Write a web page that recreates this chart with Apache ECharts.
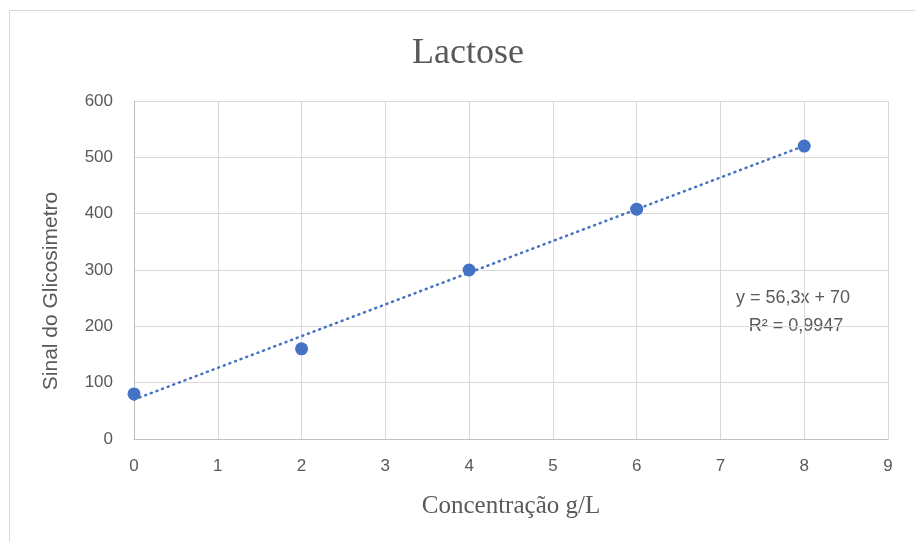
<!DOCTYPE html>
<html><head><meta charset="utf-8">
<script src="https://cdn.jsdelivr.net/npm/echarts@6/dist/echarts.min.js"></script>
<style>html,body{margin:0;padding:0;background:#fff}#c{width:915px;height:542px}</style>
</head><body><div id="c"></div>
<script>
const concentrations = [0, 2, 4, 6, 8];
const signals = [80, 160, 300, 408, 520];
const trendSlope = 56.3;
const trendIntercept = 70;
const trendX = [0, 8];

const chart = echarts.init(document.getElementById('c'));
const sans = '"Liberation Sans", Arial, sans-serif';
const serif = '"Liberation Serif", "DejaVu Serif", serif';
chart.setOption({
  animation: false,
  title: { text: 'Lactose', left: 463, top: 31, textAlign: 'center',
    textStyle: { fontFamily: serif, fontSize: 36, fontWeight: 'normal', color: '#595959' } },
  grid: { left: 134, top: 101, right: 27, bottom: 103 },
  xAxis: { type: 'value', min: 0, max: 9, interval: 1,
    name: 'Concentração g/L', nameLocation: 'middle', nameGap: 55,
    nameTextStyle: { fontFamily: serif, fontSize: 25, color: '#595959' },
    axisLine: { show: true, lineStyle: { color: '#bfbfbf', width: 1 } },
    axisTick: { show: false },
    axisLabel: { margin: 19, fontFamily: sans, fontSize: 17, color: '#595959' },
    splitLine: { show: true, lineStyle: { color: '#d9d9d9', width: 1 } } },
  yAxis: { type: 'value', min: 0, max: 600, interval: 100,
    name: 'Sinal do Glicosimetro', nameLocation: 'middle', nameGap: 72, nameRotate: 90,
    nameTextStyle: { fontFamily: sans, fontSize: 21, color: '#595959', padding: [0, 42, 0, 0] },
    axisLine: { show: true, lineStyle: { color: '#bfbfbf', width: 1 } },
    axisTick: { show: false },
    axisLabel: { margin: 21, fontFamily: sans, fontSize: 17, color: '#595959' },
    splitLine: { show: true, lineStyle: { color: '#d9d9d9', width: 1 } } },
  graphic: [
    { type: 'rect', silent: true, z: -1, shape: { x: 9.5, y: 10.5, width: 920, height: 540 },
      style: { fill: 'none', stroke: '#d9d9d9', lineWidth: 1 } },
    { type: 'text', x: 793, y: 298, style: { text: 'y = 56,3x + 70', fontFamily: sans, fontSize: 18, fill: '#595959', textAlign: 'center', textVerticalAlign: 'middle' } },
    { type: 'text', x: 796, y: 326, style: { text: 'R² = 0,9947', fontFamily: sans, fontSize: 18, fill: '#595959', textAlign: 'center', textVerticalAlign: 'middle' } }
  ],
  series: [
    { type: 'line', name: 'Tendência', data: trendX.map(x => [x, trendSlope * x + trendIntercept]),
      showSymbol: false, symbol: 'none', z: 2,
      lineStyle: { color: '#4472C4', width: 2.5, type: [1, 5], cap: 'round' } },
    { type: 'scatter', name: 'Lactose', data: concentrations.map((x, i) => [x, signals[i]]),
      symbol: 'circle', symbolSize: 13, z: 3,
      itemStyle: { color: '#4472C4', opacity: 1 } }
  ]
});
</script></body></html>
